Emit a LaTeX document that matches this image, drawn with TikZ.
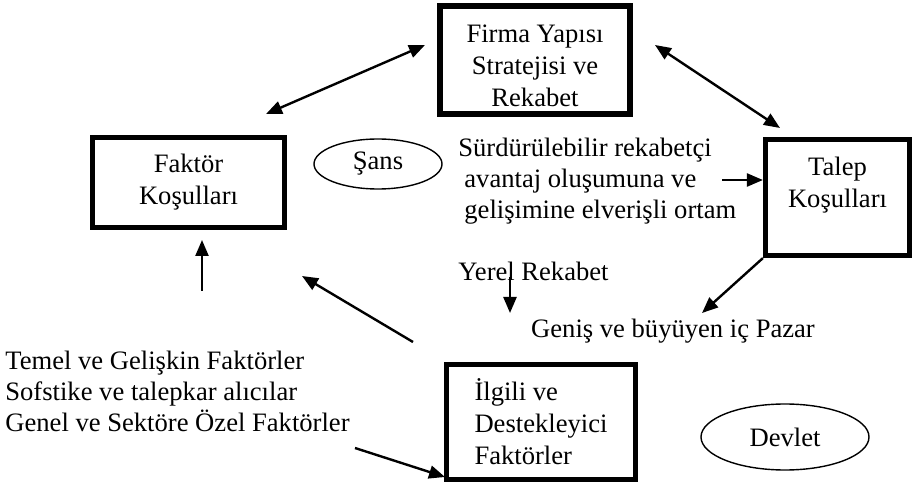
\documentclass[tikz,border=0pt]{standalone}
\usepackage{fontspec}
\setmainfont{Liberation Serif}
\usetikzlibrary{arrows.meta,shapes.geometric}
\begin{document}
\begin{tikzpicture}[x=0.5pt,y=-0.5pt,
  font=\fontsize{13.3}{16}\selectfont,
  box/.style={draw,line width=2.6pt,align=center,inner sep=0pt},
  oval/.style={draw,ellipse,line width=0.7pt,inner sep=0pt},
  lbl/.style={align=left,inner sep=0pt},
  arr/.style={line width=1.2pt,-{Triangle[length=8pt,width=6.5pt]}},
  darr/.style={line width=1.2pt,{Triangle[length=8pt,width=6.5pt]}-{Triangle[length=8pt,width=6.5pt]}}]
\useasboundingbox (0,0) rectangle (916,486);
% boxes
\node[box,minimum width=95pt,minimum height=54pt,text height=47pt] (firma) at (535,60)
  {Firma Yapısı\\Stratejisi ve\\Rekabet};
\node[box,minimum width=96pt,minimum height=45pt] (faktor) at (188.5,182.5) {Faktör\\Koşulları};
\node[box,minimum width=72pt,minimum height=58pt,text depth=15pt] (talep) at (837.5,197.5)
  {Talep\\Koşulları};
\node[box,minimum width=94.5pt,minimum height=57.5pt,align=left] (ilgili) at (541,422) {İlgili ve\\Destekleyici\\Faktörler};
% ellipses
\node[oval,minimum width=64pt,minimum height=25pt] (sans) at (378,164) {Şans};
\node[oval,minimum width=84pt,minimum height=33pt] (devlet) at (785,437) {Devlet};
% texts
\node[lbl,anchor=west,font=\fontsize{13.3}{15.5}\selectfont] (surd) at (458,181) {Sürdürülebilir rekabetçi\\\hspace{3pt}avantaj oluşumuna ve\\\hspace{3pt}gelişimine elverişli ortam};
\node[lbl,anchor=west] (yerel) at (458,271) {Yerel Rekabet};
\node[lbl] (genis) at (673,331) {Geniş ve büyüyen iç Pazar};
\node[lbl,anchor=west,font=\fontsize{13.3}{15.5}\selectfont] (temel) at (5,391) {Temel ve Gelişkin Faktörler\\Sofstike ve talepkar alıcılar\\Genel ve Sektöre Özel Faktörler};
% arrow ends
\coordinate (a1s) at (266,114);
\coordinate (a1e) at (425,45);
\coordinate (a2s) at (655,45);
\coordinate (a2e) at (780,128);
\coordinate (a3s) at (722,180);
\coordinate (a4e) at (702,313);
\coordinate (a5s) at (510,277);
\coordinate (a5e) at (510,313);
\coordinate (a6s) at (202,291);
\coordinate (a6e) at (202,240);
\coordinate (a7s) at (413,342);
\coordinate (a7e) at (302,276);
\coordinate (a8s) at (355,448);
\coordinate (a8e) at (445,477);
% connectors
\draw[darr] (a1s) -- (a1e);
\draw[darr] (a2s) -- (a2e);
\draw[arr] (a3s) -- (a3s -| talep.west);
\draw[arr] (talep.south west) -- (a4e);
\draw[arr] (a5s) -- (a5e);
\draw[arr] (a6s) -- (a6e);
\draw[arr] (a7s) -- (a7e);
\draw[arr] (a8s) -- (a8e);
\end{tikzpicture}
\end{document}
